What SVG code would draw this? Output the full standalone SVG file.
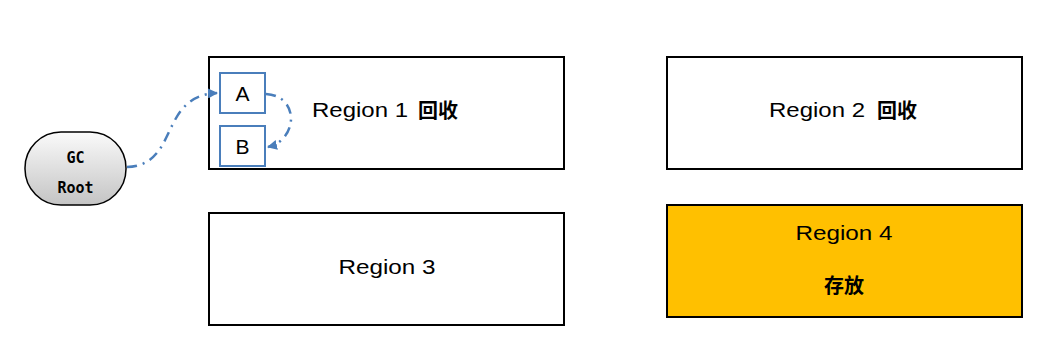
<svg xmlns="http://www.w3.org/2000/svg" width="1053" height="342" viewBox="0 0 1053 342">
<style>
.region{fill:#fff;stroke:#000;stroke-width:2}
.small{fill:#fff;stroke:#4a7ebb;stroke-width:2}
.hand{font-family:"Liberation Sans","DejaVu Sans",sans-serif;font-size:21px;fill:#000}
.cjk{font-family:"Noto Sans CJK SC",sans-serif;font-size:20px;font-weight:bold;fill:#000}
.gc{font-family:"DejaVu Sans Mono","Liberation Mono",monospace;font-size:15px;font-weight:bold;fill:#000}
.conn{fill:none;stroke:#4a7ebb;stroke-width:2.5;stroke-dasharray:10,6,2,6}
</style>
<defs>
<linearGradient id="g" x1="0" y1="0" x2="0" y2="1">
<stop offset="0" stop-color="#fafafa"/>
<stop offset="1" stop-color="#c4c4c4"/>
</linearGradient>
<marker id="arr" viewBox="0 0 10 10" refX="9" refY="5" markerWidth="4" markerHeight="4" orient="auto">
<path d="M0,0 L10,5 L0,10 z" fill="#4a7ebb"/>
</marker>
</defs>
<rect width="1053" height="342" fill="#fff"/>
<g id="region1">
<rect class="region" x="209" y="57" width="355" height="112"/>
<text class="hand" x="312" y="117" textLength="96" lengthAdjust="spacingAndGlyphs">Region 1</text>
<text class="cjk" x="418" y="118">回收</text>
</g>
<g id="region2">
<rect class="region" x="667" y="57" width="355" height="112"/>
<text class="hand" x="769" y="117" textLength="96" lengthAdjust="spacingAndGlyphs">Region 2</text>
<text class="cjk" x="877" y="118">回收</text>
</g>
<g id="region3">
<rect class="region" x="209" y="213" width="355" height="112"/>
<text class="hand" x="387" y="274" text-anchor="middle" textLength="97" lengthAdjust="spacingAndGlyphs">Region 3</text>
</g>
<g id="region4">
<rect class="region" x="667" y="205" width="355" height="112" style="fill:#ffc000"/>
<text class="hand" x="844" y="240" text-anchor="middle" textLength="97" lengthAdjust="spacingAndGlyphs">Region 4</text>
<text class="cjk" x="844" y="293" text-anchor="middle">存放</text>
</g>
<g id="A">
<rect class="small" x="220" y="73" width="45" height="40"/>
<text class="hand" x="242.5" y="101" text-anchor="middle" font-size="23">A</text>
</g>
<g id="B">
<rect class="small" x="220" y="126" width="45" height="40"/>
<text class="hand" x="242.5" y="154" text-anchor="middle" font-size="23">B</text>
</g>
<g id="gcroot">
<rect x="25" y="132" width="101" height="73" rx="36" ry="36" fill="url(#g)" stroke="#000" stroke-width="1.5"/>
<text class="gc" x="75.5" y="163" text-anchor="middle">GC</text>
<text class="gc" x="75.5" y="193" text-anchor="middle">Root</text>
</g>
<g id="connectors">
<path class="conn" d="M127,167 C180,165 158,96 217,93" marker-end="url(#arr)"/>
<path class="conn" d="M266,94 C300,96 298,140 268,147" marker-end="url(#arr)"/>
</g>
</svg>
